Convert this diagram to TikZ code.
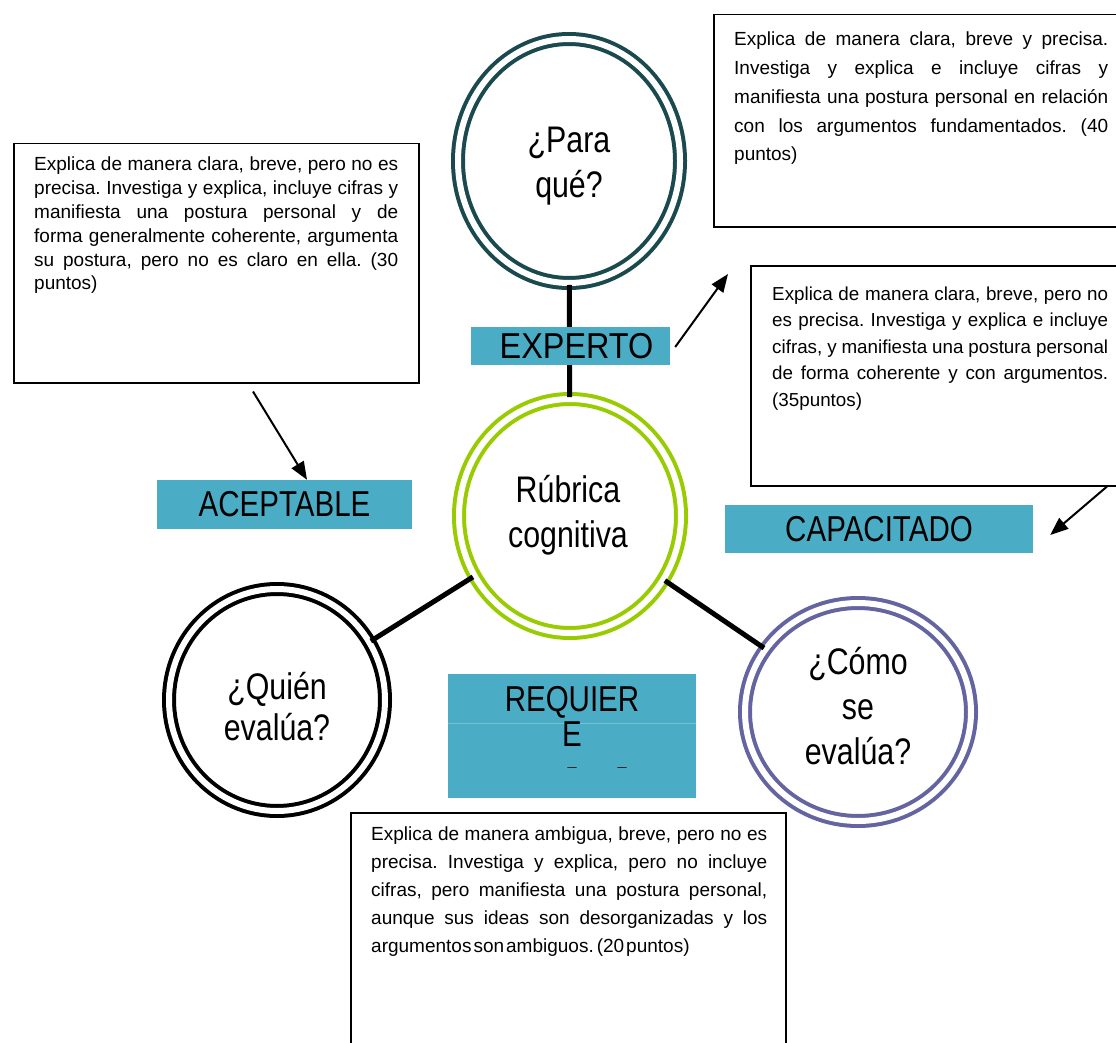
\documentclass[tikz,border=0pt]{standalone}
\usepackage{fontspec}
\setmainfont{Liberation Sans}
\newfontfamily\narrowf[FakeStretch=0.82]{Liberation Sans}
\newfontfamily\midf[FakeStretch=0.9]{Liberation Sans}
\usetikzlibrary{shapes.geometric,arrows.meta,calc}
\definecolor{lbl}{RGB}{75,172,198}
\definecolor{lblline}{RGB}{112,192,214}
\definecolor{tealc}{RGB}{26,73,78}
\definecolor{greenc}{RGB}{153,204,0}
\definecolor{purplec}{RGB}{100,100,160}
\tolerance=9999
\hbadness=10000
\hfuzz=20pt
\frenchspacing
\newcommand{\boxfont}[2]{\fontsize{#1}{#2}\selectfont\spaceskip=0.278em plus 0.8em minus 0.12em\relax}
\begin{document}
\begin{tikzpicture}[x=1pt,y=-1pt,
  ring/.style={ellipse, inner sep=0pt, line width=4pt, double=white, double distance=6pt},
  circtxt/.style={inner sep=0pt, align=center, font=\narrowf\fontsize{37}{45}\selectfont},
  lblbox/.style={fill=lbl, inner sep=0pt, font=\narrowf\fontsize{36}{35}\selectfont},
  txtbox/.style={draw=black, line width=1.5pt, inner sep=0pt, anchor=north west},
  desc/.style={inner sep=0pt, align=justify, anchor=base west},
  conn/.style={line width=5pt},
  arr/.style={line width=2pt, -{Triangle[length=18pt,width=14pt]}}
]
\useasboundingbox (0,0) rectangle (1116,1043);
\clip (0,0) rectangle (1116,1043);

% circles
\node[ring, draw=tealc, minimum width=222pt, minimum height=244pt] (para) at (569,161) {};
\node[ring, draw=greenc, minimum width=222pt, minimum height=234pt] (rub) at (570,516) {};
\node[ring, draw=black, minimum width=216pt, minimum height=222pt] (quien) at (277,700) {};
\node[ring, draw=purplec, minimum width=226pt, minimum height=218pt] (como) at (858,712) {};
\node[circtxt] (parat) at ($(para)+(0,5)$) {¿Para\\qué?};
\node[circtxt] (rubt) at ($(rub)+(-2,-1)$) {Rúbrica\\cognitiva};
\node[circtxt, font=\narrowf\fontsize{37}{41}\selectfont] (quient) at ($(quien)+(0,7)$) {¿Quién\\evalúa?};
\node[circtxt] (comot) at ($(como)+(0,-6)$) {¿Cómo\\se\\evalúa?};

% connectors
\draw[conn] (para) -- (rub);
\draw[conn] (rub) -- (quien);
\draw[conn] (rub) -- (como);

% label boxes
\node[lblbox, minimum width=199pt, minimum height=38pt, font=\midf\fontsize{36}{35}\selectfont] (exp) at (570.5,346) {\hspace*{12pt}EXPERTO};
\node[lblbox, minimum width=255pt, minimum height=49pt] (acep) at (284.5,504.5) {ACEPTABLE};
\node[lblbox, minimum width=308pt, minimum height=48pt] (cap) at (879,529) {CAPACITADO};
\node[lblbox, minimum width=248pt, minimum height=124pt] (req) at (572,736) {};
\draw[lblline, line width=0.8pt] ($(req.west)+(0,-13)$) -- ($(req.east)+(0,-13)$);
\node[inner sep=0pt, anchor=north, align=center, font=\narrowf\fontsize{36}{35}\selectfont] (reqt) at (572,686) {REQUIER\\E};
\draw[line width=1.8pt, line cap=round, black!85] ($(req.center)+(-4,31.5)$) -- ($(req.center)+(4,31.5)$);
\draw[line width=1.8pt, line cap=round, black!85] ($(req.center)+(46,31.5)$) -- ($(req.center)+(54,31.5)$);

% text boxes
\node[txtbox, minimum width=405pt, minimum height=239pt] (tl) at (13,143) {};
\node[desc, text width=364pt, font=\boxfont{19}{23.8}] (tlt) at (34,171) {Explica de manera clara, breve, pero no es\linebreak precisa. Investiga y explica, incluye cifras y\linebreak manifiesta una postura personal y de\linebreak forma generalmente coherente, argumenta\linebreak su postura, pero no es claro en ella. (30\linebreak puntos)};

\node[txtbox, minimum width=412pt, minimum height=212pt] (tr) at (713,14) {};
\node[desc, text width=374pt, font=\boxfont{19}{28.7}] (trt) at (734,46) {Explica de manera clara, breve y precisa.\linebreak Investiga y explica e incluye cifras y\linebreak manifiesta una postura personal en relación\linebreak con los argumentos fundamentados. (40\linebreak puntos)};

\node[txtbox, minimum width=375pt, minimum height=220pt] (rm) at (750,265) {};
\node[desc, text width=336pt, font=\boxfont{18.8}{26.5}] (rmt) at (772,300) {Explica de manera clara, breve, pero no\linebreak es precisa. Investiga y explica e incluye\linebreak cifras, y manifiesta una postura personal\linebreak de forma coherente y con argumentos.\linebreak (35puntos)};

\node[txtbox, minimum width=435pt, minimum height=243pt] (bt) at (350,812) {};
\node[desc, text width=396pt, font=\boxfont{19}{28}] (btt) at (371,840) {Explica de manera ambigua, breve, pero no es\linebreak precisa. Investiga y explica, pero no incluye\linebreak cifras, pero manifiesta una postura personal,\linebreak aunque sus ideas son desorganizadas y los\linebreak argumentos\kern2pt son\kern2pt ambiguos.\kern3pt (20\kern2pt puntos)};

% arrows
\draw[arr] ($(tl.south west)+(240,8)$) -- ($(acep.north)+(22.5,0)$);
\draw[arr] ($(exp.east)+(5,1)$) -- ($(rm.north west)+(-22,9)$);
\draw[arr] ($(rm.south west)+(357,0)$) -- ($(cap.east)+(17,6)$);
\end{tikzpicture}
\end{document}
